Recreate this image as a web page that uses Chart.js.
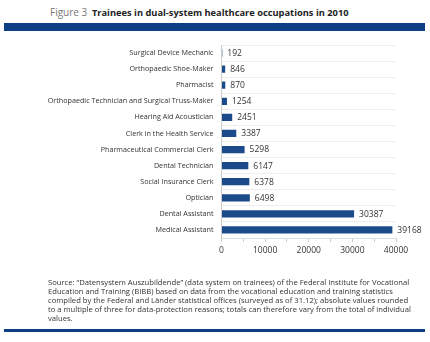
<!DOCTYPE html>
<html>
<head>
<meta charset="utf-8">
<script src="https://cdn.jsdelivr.net/npm/chart.js@4"></script>
<style>
  body { margin: 0; background: #fff; width: 430px; height: 342px; overflow: hidden; position: relative; font-family: "Open Sans", sans-serif; }
  #title { position: absolute; left: 50px; top: 5px; font-size: 10px; color: #222; white-space: nowrap; }
  #title .fig { color: #777; margin-right: 2px; }
  #title b { font-weight: 700; font-size: 9.3px; }
  .band { position: absolute; left: 4px; width: 421px; background: #0d3f85; }
  #chartBox { position: absolute; left: 0; top: 0; width: 430px; height: 342px; }
  #source { position: absolute; left: 48px; top: 278px; width: 380px; font-size: 7.65px; line-height: 8.9px; color: #333; white-space: nowrap; }
</style>
</head>
<body>
<div id="title"><span class="fig">Figure 3</span> <b>Trainees in dual-system healthcare occupations in 2010</b></div>
<div class="band" style="top:23px;height:8px"></div>
<div id="chartBox"><canvas id="chart" width="430" height="342"></canvas></div>
<div id="source">Source: “Datensystem Auszubildende” (data system on trainees) of the Federal Institute for Vocational<br>Education and Training (BIBB) based on data from the vocational education and training statistics<br>compiled by the Federal and Länder statistical offices (surveyed as of 31.12); absolute values rounded<br>to a multiple of three for data-protection reasons; totals can therefore vary from the total of individual<br>values.</div>
<div class="band" style="top:329px;height:3px"></div>
<script>
// occupations, top to bottom
const occupations = [
  'Surgical Device Mechanic',
  'Orthopaedic Shoe-Maker',
  'Pharmacist',
  'Orthopaedic Technician and Surgical Truss-Maker',
  'Hearing Aid Acoustician',
  'Clerk in the Health Service',
  'Pharmaceutical Commercial Clerk',
  'Dental Technician',
  'Social Insurance Clerk',
  'Optician',
  'Dental Assistant',
  'Medical Assistant'
];
const trainees = [192, 846, 870, 1254, 2451, 3387, 5298, 6147, 6378, 6498, 30387, 39168];
const xTicks = [0, 10000, 20000, 30000, 40000];

const barBlue = '#1c4b8c';
const fontFamily = '"Open Sans", sans-serif';

// value next to each bar
const valueLabels = {
  id: 'valueLabels',
  afterDatasetsDraw(chart) {
    const ctx = chart.ctx;
    const meta = chart.getDatasetMeta(0);
    ctx.save();
    ctx.font = '8.5px ' + fontFamily;
    ctx.fillStyle = '#333';
    ctx.textBaseline = 'middle';
    meta.data.forEach((bar, i) => {
      ctx.fillText(String(trainees[i]), bar.x + 5, bar.y + 0.5);
    });
    ctx.restore();
  }
};

new Chart(document.getElementById('chart'), {
  type: 'bar',
  data: {
    labels: occupations,
    datasets: [{
      data: trainees,
      backgroundColor: barBlue,
      barPercentage: 0.45,
      categoryPercentage: 1
    }]
  },
  options: {
    indexAxis: 'y',
    responsive: false,
    animation: false,
    layout: { padding: { top: 45, right: 34, bottom: 84, left: 0 } },
    plugins: { legend: { display: false }, tooltip: { enabled: false } },
    scales: {
      x: {
        min: 0,
        max: 40000,
        afterFit: s => { s.height = 20; },
        afterBuildTicks: s => {
          const t = [];
          for (let v = 0; v <= 40000; v += 5000) t.push({ value: v });
          s.ticks = t;
        },
        border: { color: '#ddd' },
        grid: { drawOnChartArea: false, tickLength: 4, color: '#ccc' },
        ticks: {
          autoSkip: false,
          maxRotation: 0,
          padding: 3,
          color: '#333',
          font: { family: fontFamily, size: 8.5 },
          callback: v => xTicks.includes(v) ? String(v) : ''
        }
      },
      y: {
        afterFit: s => { s.width = 221.5; },
        border: { color: '#ccc' },
        grid: { color: '#eee', drawTicks: false, offset: true },
        ticks: {
          autoSkip: false,
          padding: 8,
          color: '#333',
          font: { family: fontFamily, size: 7.2 }
        }
      }
    }
  },
  plugins: [valueLabels]
});
</script>
</body>
</html>
